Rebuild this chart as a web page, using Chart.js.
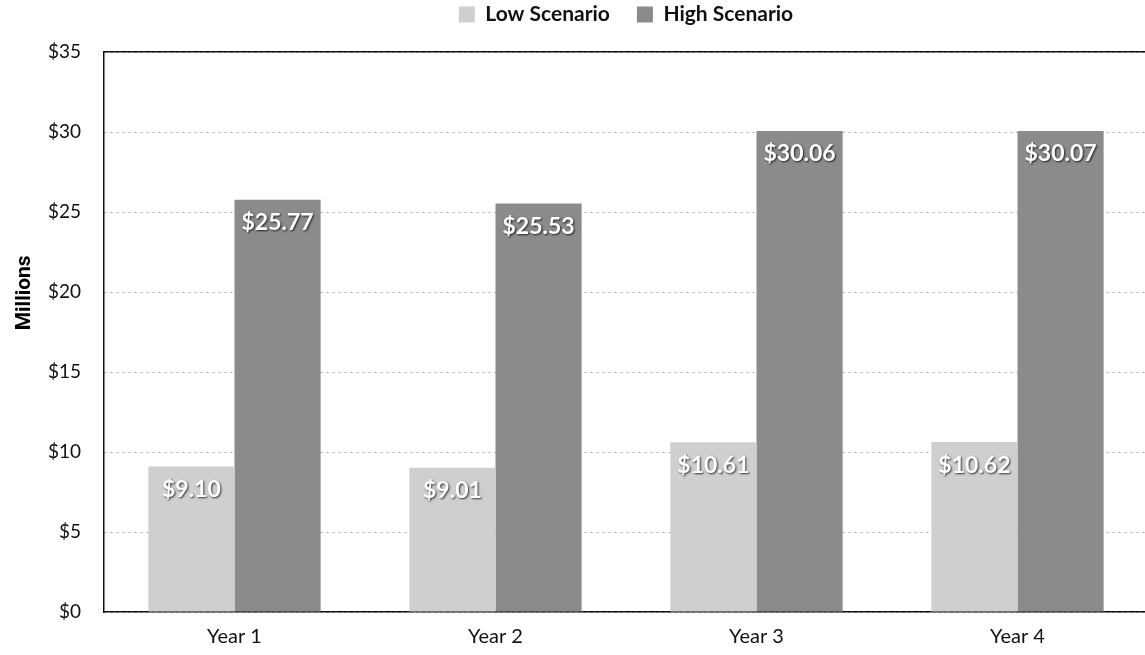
<!DOCTYPE html>
<html>
<head>
<meta charset="utf-8">
<script src="https://cdn.jsdelivr.net/npm/chart.js@4/dist/chart.umd.min.js"></script>
<style>
    html, body { margin: 0; padding: 0; background: #fff; overflow: hidden; }
    #wrap { width: 1150px; height: 655px; }
</style>
</head>
<body>
<div id="wrap"><canvas id="chart" width="1150" height="655"></canvas></div>
<script>
// Values (millions of dollars)
const categories = ['Year 1', 'Year 2', 'Year 3', 'Year 4'];
const lowScenario = [9.10, 9.01, 10.61, 10.62];
const highScenario = [25.77, 25.53, 30.06, 30.07];
const seriesNames = ['Low Scenario', 'High Scenario'];
const yMax = 35;
const yStep = 5;

const FONT = 'Lato, "Liberation Sans", sans-serif';

// Force the legend band to a set height so the plot starts where the original does
const legendHeight = {
    id: 'legendHeight',
    beforeInit: function(chart) {
        const fit = chart.legend.fit;
        chart.legend.fit = function() {
            fit.call(this);
            this.height = 75;
        };
    }
};

// White value labels just inside the top of each bar
const barLabels = {
    id: 'barLabels',
    afterDatasetsDraw: function(chart) {
        const ctx = chart.ctx;
        ctx.save();
        ctx.font = 'bold 23px ' + FONT;
        ctx.textAlign = 'center';
        ctx.textBaseline = 'middle';
        chart.data.datasets.forEach(function(ds, i) {
            const meta = chart.getDatasetMeta(i);
            meta.data.forEach(function(bar, j) {
                ctx.shadowColor = 'rgba(0,0,0,0.75)';
                ctx.shadowBlur = 2;
                ctx.shadowOffsetX = 1;
                ctx.shadowOffsetY = 1;
                ctx.fillStyle = '#ffffff';
                ctx.fillText('$' + ds.data[j].toFixed(2), bar.x, bar.y + 23);
            });
        });
        ctx.restore();
    }
};

new Chart(document.getElementById('chart'), {
    type: 'bar',
    data: {
        labels: categories,
        datasets: [{
            label: seriesNames[0],
            data: lowScenario,
            backgroundColor: '#cfcfcf',
            borderWidth: 0
        }, {
            label: seriesNames[1],
            data: highScenario,
            backgroundColor: '#8b8b8b',
            borderWidth: 0
        }]
    },
    options: {
        responsive: false,
        animation: false,
        devicePixelRatio: 1,
        layout: { padding: { top: -23, right: 2, left: 0, bottom: 0 } },
        datasets: {
            bar: { categoryPercentage: 0.66, barPercentage: 1.0 }
        },
        plugins: {
            legend: {
                position: 'top',
                fullSize: false,
                labels: {
                    boxWidth: 16,
                    boxHeight: 16,
                    padding: 27,
                    color: '#111',
                    font: { family: FONT, size: 21, weight: 'bold' }
                }
            },
            tooltip: { enabled: false }
        },
        scales: {
            x: {
                grid: { display: false, drawTicks: false },
                border: { display: true, color: '#111', width: 1.5 },
                ticks: {
                    color: '#111',
                    padding: 13,
                    font: { family: FONT, size: 20 }
                },
                afterFit: function(scale) { scale.height = 43; }
            },
            x2: {
                position: 'top',
                grid: { display: false, drawTicks: false },
                border: { display: true, color: '#111', width: 1.5 },
                ticks: { display: false },
                afterFit: function(scale) { scale.height = 0; }
            },
            y: {
                min: 0,
                max: yMax,
                grid: {
                    color: '#a8a8a8',
                    lineWidth: 1,
                    drawTicks: false
                },
                border: { display: true, color: '#111', width: 1.5, dash: [2, 4] },
                ticks: {
                    stepSize: yStep,
                    color: '#111',
                    padding: 23,
                    font: { family: FONT, size: 19 },
                    callback: function(v) { return '$' + v; }
                },
                title: {
                    display: true,
                    text: '               Millions',
                    color: '#000',
                    padding: { top: 12, bottom: 0 },
                    font: { family: 'Roboto, ' + FONT, size: 21, weight: 'bold' }
                },
                afterFit: function(scale) { scale.width = 104; }
            }
        }
    },
    plugins: [legendHeight, barLabels]
});
</script>
</body>
</html>
